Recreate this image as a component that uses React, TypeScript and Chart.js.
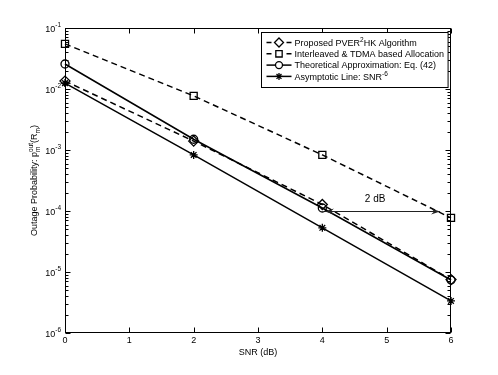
import React, { useEffect, useRef } from "react";
import { Chart, registerables } from "chart.js";

Chart.register(...registerables);

// ---------- data ----------
const snrDb = [0, 2, 4, 6];
const proposedPver2hk = [0.0135, 0.0014, 0.000128, 0.0000075];
const interleavedTdma = [0.055, 0.0077, 0.00083, 0.000077];
const theoreticalApprox = [0.0257, 0.0015, 0.000112, 0.0000074];
const asymptoticLine = [0.0125, 0.00083, 0.000053, 0.00000335];

const xTickValues = [0, 1, 2, 3, 4, 5, 6];
const yDecadeExponents = [-6, -5, -4, -3, -2, -1];

const xAxisTitle = "SNR (dB)";
const arrowStartSnr = 4.04;
const arrowEndSnr = 5.83;
const arrowLevel = 1e-4;
const arrowLabel = "2 dB";
const arrowLabelSnr = 4.82;
const arrowLabelLevel = 1.6e-4;

type Seg = { t?: string; sup?: string; sub?: string };

const legendLabels: Seg[][] = [
  [{ t: "Proposed PVER" }, { sup: "2" }, { t: "HK Algorithm" }],
  [{ t: "Interleaved & TDMA based Allocation" }],
  [{ t: "Theoretical Approximation: Eq. (42)" }],
  [{ t: "Asymptotic Line: SNR" }, { sup: "-6" }],
];
const yTitle: Seg[] = [
  { t: "Outage Probability: p" },
  { sup: "out", sub: "m" },
  { t: "(R" },
  { sub: "m" },
  { t: ")" },
];

// ---------- styles ----------
const FONT = '"Liberation Sans", Arial, Helvetica, sans-serif';
const seriesStyles = [
  { data: proposedPver2hk, dashed: true, marker: "rectRot", radius: 5 },
  { data: interleavedTdma, dashed: true, marker: "rect", radius: 5 },
  { data: theoreticalApprox, dashed: false, marker: "circle", radius: 4 },
  { data: asymptoticLine, dashed: false, marker: "star", radius: 4 },
];
const DASH = [6, 4];
const LINE_W = 1.5;

function font(size: number) {
  return `${size}px ${FONT}`;
}

function segWidth(ctx: CanvasRenderingContext2D, s: Seg, size: number, small: number) {
  if (s.t !== undefined) {
    ctx.font = font(size);
    return ctx.measureText(s.t).width;
  }
  ctx.font = font(small);
  const a = s.sup ? ctx.measureText(s.sup).width : 0;
  const b = s.sub ? ctx.measureText(s.sub).width : 0;
  return Math.max(a, b);
}

function drawRich(
  ctx: CanvasRenderingContext2D,
  segs: Seg[],
  x: number,
  y: number,
  size: number,
  align: "left" | "center" | "right",
  small = size * 0.72,
  supDy = -size * 0.45,
  subDy = size * 0.32
) {
  const widths = segs.map((s) => segWidth(ctx, s, size, small));
  const total = widths.reduce((p, c) => p + c, 0);
  let cx = align === "left" ? x : align === "center" ? x - total / 2 : x - total;
  ctx.textAlign = "left";
  ctx.textBaseline = "alphabetic";
  segs.forEach((s, i) => {
    if (s.t !== undefined) {
      ctx.font = font(size);
      ctx.fillText(s.t, cx, y);
    } else {
      ctx.font = font(small);
      if (s.sup) ctx.fillText(s.sup, cx, y + supDy);
      if (s.sub) ctx.fillText(s.sub, cx, y + subDy);
    }
    cx += widths[i];
  });
  return total;
}

function drawMarker(ctx: CanvasRenderingContext2D, style: string, x: number, y: number, r: number) {
  ctx.beginPath();
  if (style === "circle") {
    ctx.arc(x, y, r, 0, Math.PI * 2);
  } else if (style === "rect") {
    const s = r * Math.SQRT1_2;
    ctx.rect(x - s, y - s, 2 * s, 2 * s);
  } else if (style === "rectRot") {
    ctx.moveTo(x, y - r);
    ctx.lineTo(x + r, y);
    ctx.lineTo(x, y + r);
    ctx.lineTo(x - r, y);
    ctx.closePath();
  } else if (style === "star") {
    const d = r * Math.SQRT1_2;
    ctx.moveTo(x - r, y);
    ctx.lineTo(x + r, y);
    ctx.moveTo(x, y - r);
    ctx.lineTo(x, y + r);
    ctx.moveTo(x - d, y - d);
    ctx.lineTo(x + d, y + d);
    ctx.moveTo(x - d, y + d);
    ctx.lineTo(x + d, y - d);
  }
  ctx.fillStyle = "#fff";
  if (style !== "star") ctx.fill();
  ctx.stroke();
}

const framePlugin = {
  id: "matlabFrame",
  afterDraw(chart: any) {
    const { ctx, chartArea: a, scales } = chart;
    const xs = scales.x;
    const ys = scales.y;
    const L = Math.round(a.left) + 0.5;
    const R = Math.round(a.right) - 0.5;
    const T = Math.round(a.top) + 0.5;
    const B = Math.round(a.bottom) - 0.5;
    ctx.save();
    ctx.strokeStyle = "#000";
    ctx.fillStyle = "#000";
    ctx.lineWidth = 1;
    ctx.setLineDash([]);
    ctx.strokeRect(L, T, R - L, B - T);

    // x ticks (bottom & top, inside)
    ctx.beginPath();
    xTickValues.forEach((v) => {
      const px = Math.round(xs.getPixelForValue(v)) + 0.5;
      ctx.moveTo(px, B);
      ctx.lineTo(px, B - 5);
      ctx.moveTo(px, T);
      ctx.lineTo(px, T + 5);
    });
    // y ticks (log, major + minor)
    yDecadeExponents.forEach((e) => {
      for (let m = 1; m <= 9; m++) {
        const v = m * Math.pow(10, e);
        if (v > ys.max * 1.0001) break;
        const py = Math.round(ys.getPixelForValue(v)) + 0.5;
        const len = m === 1 ? 5 : 3;
        ctx.moveTo(L, py);
        ctx.lineTo(L + len, py);
        ctx.moveTo(R, py);
        ctx.lineTo(R - len, py);
      }
    });
    ctx.stroke();

    // y tick labels 10^e
    ctx.fillStyle = "#000";
    yDecadeExponents.forEach((e) => {
      const py = ys.getPixelForValue(Math.pow(10, e));
      drawRich(ctx, [{ t: "10" }, { sup: String(e) }], a.left - 4, py + 4, 9, "right", 6.5, -5, 3);
    });

    // x title
    ctx.fillStyle = "#000";
    drawRich(ctx, [{ t: xAxisTitle }], (a.left + a.right) / 2, 355, 9, "center");

    // y title (rotated)
    ctx.save();
    ctx.translate(37, (a.top + a.bottom) / 2);
    ctx.rotate(-Math.PI / 2);
    drawRich(ctx, yTitle, 0, 0, 9, "center", 6.5, -4, 3);
    ctx.restore();

    // arrow annotation
    const ay = Math.round(ys.getPixelForValue(arrowLevel)) + 0.5;
    const ax1 = xs.getPixelForValue(arrowStartSnr);
    const ax2 = xs.getPixelForValue(arrowEndSnr);
    ctx.strokeStyle = "#222";
    ctx.fillStyle = "#222";
    ctx.beginPath();
    ctx.moveTo(ax1, ay);
    ctx.lineTo(ax2, ay);
    ctx.stroke();
    const head = (x: number, dir: number) => {
      ctx.beginPath();
      ctx.moveTo(x, ay);
      ctx.lineTo(x - dir * 9, ay - 3);
      ctx.lineTo(x - dir * 6, ay);
      ctx.lineTo(x - dir * 9, ay + 3);
      ctx.closePath();
      ctx.fill();
    };
    head(ax1, -1);
    head(ax2, 1);
    ctx.fillStyle = "#000";
    drawRich(
      ctx,
      [{ t: arrowLabel }],
      xs.getPixelForValue(arrowLabelSnr),
      ys.getPixelForValue(arrowLabelLevel) + 3.5,
      10,
      "center"
    );

    // legend
    let maxW = 0;
    legendLabels.forEach((segs) => {
      const w = segs.map((s) => segWidth(ctx, s, 9, 6.5)).reduce((p, c) => p + c, 0);
      maxW = Math.max(maxW, w);
    });
    const boxW = 33 + maxW + 4;
    const bx = Math.round(a.right - 3 - boxW) + 0.5;
    const by = Math.round(a.top + 4) + 0.5;
    const rowH = 11.3;
    const boxH = 55;
    ctx.fillStyle = "#fff";
    ctx.fillRect(bx, by, boxW, boxH);
    ctx.strokeStyle = "#000";
    ctx.lineWidth = 1;
    ctx.strokeRect(bx, by, boxW, boxH);
    legendLabels.forEach((segs, i) => {
      const st = seriesStyles[i];
      const ry = by + 10 + i * rowH;
      const x0 = bx + 5;
      const x1 = bx + 30;
      const mx = (x0 + x1) / 2;
      ctx.strokeStyle = "#000";
      ctx.lineWidth = LINE_W;
      ctx.beginPath();
      if (st.dashed) {
        ctx.moveTo(x0, ry);
        ctx.lineTo(x0 + 5, ry);
        ctx.moveTo(x1 - 5, ry);
        ctx.lineTo(x1, ry);
      } else {
        ctx.moveTo(x0, ry);
        ctx.lineTo(x1, ry);
      }
      ctx.stroke();
      ctx.lineWidth = 1.3;
      drawMarker(ctx, st.marker, mx, ry, st.radius - 0.5);
      ctx.fillStyle = "#000";
      drawRich(ctx, segs, bx + 33, ry + 3.2, 9, "left", 6.5, -4, 3);
    });
    ctx.restore();
  },
};

export default function App() {
  const canvasRef = useRef<HTMLCanvasElement | null>(null);

  useEffect(() => {
    const canvas = canvasRef.current;
    if (!canvas) return;
    const datasets = seriesStyles.map((st) => ({
      data: snrDb.map((x, i) => ({ x, y: st.data[i] })),
      borderColor: "#000",
      borderWidth: LINE_W,
      borderDash: st.dashed ? DASH : [],
      pointStyle: st.marker,
      pointRadius: st.radius,
      pointBorderWidth: 1.3,
      pointBorderColor: "#000",
      pointBackgroundColor: "rgba(0,0,0,0)",
      fill: false,
      tension: 0,
      clip: false as any,
    }));
    const chart = new Chart(canvas, {
      type: "line",
      data: { datasets },
      options: {
        responsive: false,
        animation: false,
        events: [],
        layout: { padding: { left: 0, top: 28, right: 47, bottom: 0 } },
        plugins: { legend: { display: false }, tooltip: { enabled: false } },
        scales: {
          x: {
            type: "linear",
            min: 0,
            max: 6,
            grid: { display: false, drawTicks: false },
            border: { display: false },
            ticks: {
              stepSize: 1,
              padding: 2,
              color: "#000",
              font: { family: FONT, size: 9 },
              maxRotation: 0,
            },
            afterFit: (s: any) => {
              s.height = 42;
            },
          },
          y: {
            type: "logarithmic",
            min: 1e-6,
            max: 1e-1,
            grid: { display: false, drawTicks: false },
            border: { display: false },
            ticks: { display: false },
            afterFit: (s: any) => {
              s.width = 65;
            },
          },
        },
      },
      plugins: [framePlugin],
    });
    return () => chart.destroy();
  }, []);

  return (
    <div style={{ position: "fixed", left: 0, top: 0, width: 498, height: 375, background: "#fff" }}>
      <canvas ref={canvasRef} width={498} height={375} style={{ display: "block" }} />
    </div>
  );
}
